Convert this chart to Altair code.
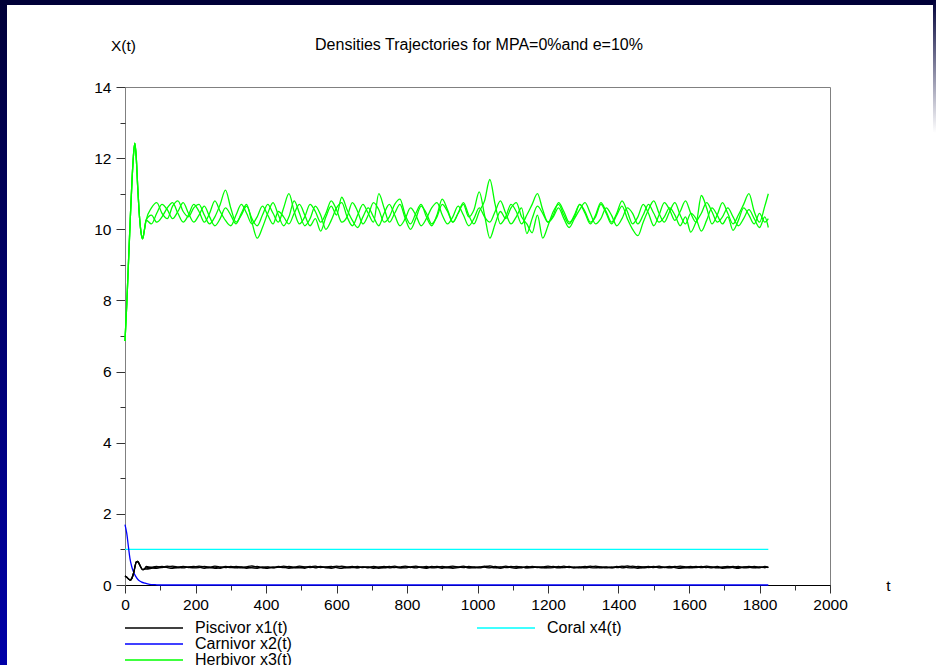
import altair as alt
import pandas as pd

FONT = "Liberation Sans"

# ---- time grids (days) ----
t_start = [0, 5, 10, 15, 20, 25, 28, 32, 36, 40, 45, 50, 55]
t_run = list(range(60, 1816, 15)) + [1825]

# ---- Herbivor x3(t): common transient, then three noisy runs ----
herb_start = [6.86, 7.9, 9.1, 10.3, 11.4, 12.2, 12.42, 12.0, 11.2, 10.5, 9.95, 9.73, 9.98]
herb_1 = [
    10.26, 10.6, 10.75, 10.45, 10.3, 10.65, 10.8, 10.5, 10.35, 10.6,
    10.7, 10.4, 10.15, 10.35, 10.7, 11.1, 10.6, 10.2, 10.4, 10.65,
    10.3, 10.1, 10.4, 10.7, 10.45, 10.2, 10.6, 11.0, 10.5, 10.15,
    10.35, 10.7, 10.5, 10.2, 10.45, 10.8, 10.55, 10.2, 10.35, 10.75,
    10.5, 10.15, 10.4, 10.75, 10.55, 10.2, 10.35, 10.7, 10.85, 10.4,
    10.15, 10.45, 10.7, 10.35, 10.1, 10.4, 10.85, 10.55, 10.2, 10.45,
    10.75, 10.4, 10.15, 10.5, 10.8, 11.4, 10.7, 10.15, 10.35, 10.7,
    10.5, 10.15, 10.4, 10.7, 11.0, 10.55, 10.2, 10.4, 10.75, 10.5,
    10.2, 10.35, 10.7, 10.45, 10.15, 10.4, 10.75, 10.5, 10.2, 10.45,
    10.8, 10.5, 10.15, 10.35, 10.7, 10.45, 10.1, 10.4, 10.75, 10.55,
    10.25, 10.5, 10.8, 10.45, 10.2, 10.95, 10.6, 10.15, 10.4, 10.75,
    10.45, 10.15, 10.4, 10.7, 11.0, 10.5, 10.2, 10.65,
    11.0,
]
herb_2 = [
    10.26, 10.15, 10.45, 10.7, 10.55, 10.3, 10.5, 10.75, 10.45, 10.2,
    10.4, 10.65, 10.35, 10.1, 10.3, 10.6, 10.4, 10.15, 10.45, 10.7,
    10.2, 9.75, 10.05, 10.45, 10.75, 10.4, 10.1, 10.35, 10.8, 10.45,
    10.1, 10.3, 10.65, 10.4, 10.0, 10.25, 10.6, 10.75, 10.35, 10.1,
    10.4, 10.7, 10.45, 10.2, 11.0, 10.6, 10.2, 10.45, 10.7, 10.3,
    10.0, 10.3, 10.65, 10.45, 10.15, 10.35, 10.7, 10.5, 10.2, 10.45,
    10.7, 10.35, 10.55, 11.05, 10.4, 9.75, 10.15, 10.5, 10.3, 10.6,
    10.75, 10.35, 10.15, 9.9, 10.4, 9.75, 10.1, 10.5, 10.7, 10.4,
    10.15, 10.4, 10.7, 10.5, 10.2, 10.35, 10.7, 10.45, 10.15, 10.4,
    10.65, 10.3, 10.0, 9.82, 10.2, 10.55, 10.8, 10.45, 10.2, 10.5,
    10.75, 10.4, 10.15, 10.45, 10.3, 9.95, 10.25, 10.6, 10.4, 10.15,
    10.35, 9.97, 10.25, 10.6, 10.4, 10.15, 10.45, 10.2,
    10.3,
]
herb_3 = [
    10.26, 10.4, 10.2, 10.35, 10.6, 10.75, 10.45, 10.2, 10.4, 10.7,
    10.5, 10.2, 10.45, 10.8, 10.5, 10.25, 10.1, 10.4, 10.7, 10.45,
    10.15, 10.35, 10.65, 10.4, 10.15, 10.5, 10.35, 10.15, 10.45, 10.7,
    10.4, 10.1, 10.3, 9.95, 10.35, 10.65, 10.4, 10.9, 10.55, 10.25,
    10.05, 10.35, 10.6, 10.35, 10.1, 10.45, 10.7, 10.4, 10.1, 10.3,
    10.6, 10.4, 10.1, 10.3, 10.6, 10.75, 10.4, 10.15, 10.35, 10.65,
    10.4, 10.1, 10.3, 10.6, 10.35, 10.2, 10.5, 10.8, 10.45, 10.15,
    10.35, 10.6, 9.88, 10.3, 10.65, 10.45, 10.2, 10.35, 10.6, 10.3,
    10.05, 10.3, 10.55, 10.75, 10.45, 10.15, 10.3, 10.6, 10.4, 10.1,
    10.3, 10.6, 10.45, 10.15, 10.4, 10.7, 10.45, 10.2, 10.35, 10.6,
    10.4, 10.1, 10.35, 9.92, 10.2, 10.45, 10.75, 10.5, 10.2, 10.35,
    10.6, 10.35, 10.1, 10.3, 10.55, 10.3, 10.05, 10.35,
    10.05,
]

# ---- Piscivor x1(t): common transient, then three noisy runs ----
pisc_start = [0.25, 0.22, 0.17, 0.14, 0.2, 0.36, 0.5, 0.65, 0.66, 0.6, 0.5, 0.43, 0.45]
pisc_1 = [
    0.48, 0.5, 0.52, 0.49, 0.51, 0.53, 0.5, 0.48, 0.51, 0.52,
    0.5, 0.47, 0.5, 0.53, 0.51, 0.49, 0.52, 0.5, 0.48, 0.51,
    0.54, 0.5, 0.48, 0.51, 0.49, 0.52, 0.5, 0.47, 0.5, 0.53,
    0.51, 0.49, 0.5, 0.52, 0.48, 0.5, 0.53, 0.51, 0.48, 0.5,
    0.52, 0.49, 0.51, 0.5, 0.47, 0.5, 0.52, 0.49, 0.51, 0.53,
    0.5, 0.48, 0.51, 0.49, 0.52, 0.5, 0.47, 0.51, 0.53, 0.5,
    0.49, 0.52, 0.5, 0.48, 0.51, 0.54, 0.5, 0.47, 0.5, 0.52,
    0.5, 0.48, 0.52, 0.5, 0.49, 0.51, 0.53, 0.5, 0.48, 0.5,
    0.52, 0.49, 0.51, 0.48, 0.5, 0.53, 0.5, 0.48, 0.51, 0.49,
    0.51, 0.54, 0.5, 0.47, 0.5, 0.52, 0.49, 0.51, 0.5, 0.48,
    0.5, 0.53, 0.51, 0.48, 0.5, 0.52, 0.49, 0.51, 0.5, 0.47,
    0.5, 0.52, 0.49, 0.51, 0.5, 0.48, 0.51, 0.49,
    0.5,
]
pisc_2 = [
    0.52, 0.49, 0.47, 0.5, 0.53, 0.5, 0.48, 0.51, 0.49, 0.5,
    0.53, 0.51, 0.48, 0.5, 0.47, 0.5, 0.49, 0.52, 0.5, 0.47,
    0.5, 0.52, 0.49, 0.47, 0.51, 0.5, 0.53, 0.5, 0.48, 0.5,
    0.47, 0.51, 0.53, 0.49, 0.51, 0.52, 0.49, 0.47, 0.5, 0.52,
    0.49, 0.51, 0.48, 0.52, 0.5, 0.48, 0.5, 0.53, 0.49, 0.48,
    0.51, 0.53, 0.49, 0.47, 0.5, 0.52, 0.5, 0.48, 0.5, 0.51,
    0.53, 0.49, 0.48, 0.51, 0.5, 0.48, 0.52, 0.5, 0.53, 0.49,
    0.47, 0.5, 0.49, 0.52, 0.5, 0.48, 0.5, 0.52, 0.5, 0.53,
    0.49, 0.51, 0.48, 0.5, 0.53, 0.5, 0.48, 0.51, 0.49, 0.52,
    0.48, 0.5, 0.53, 0.5, 0.48, 0.5, 0.52, 0.48, 0.5, 0.52,
    0.49, 0.47, 0.5, 0.52, 0.49, 0.5, 0.53, 0.5, 0.48, 0.51,
    0.52, 0.49, 0.47, 0.5, 0.52, 0.5, 0.48, 0.52,
    0.49,
]
pisc_3 = [
    0.45, 0.47, 0.5, 0.52, 0.49, 0.47, 0.5, 0.52, 0.5, 0.48,
    0.49, 0.52, 0.5, 0.47, 0.49, 0.52, 0.5, 0.48, 0.51, 0.5,
    0.48, 0.47, 0.51, 0.5, 0.48, 0.5, 0.49, 0.52, 0.5, 0.48,
    0.5, 0.52, 0.48, 0.51, 0.5, 0.47, 0.5, 0.53, 0.5, 0.49,
    0.48, 0.51, 0.5, 0.47, 0.5, 0.52, 0.48, 0.5, 0.48, 0.51,
    0.49, 0.51, 0.5, 0.52, 0.48, 0.49, 0.52, 0.5, 0.47, 0.49,
    0.51, 0.48, 0.51, 0.5, 0.53, 0.5, 0.48, 0.51, 0.49, 0.5,
    0.52, 0.51, 0.48, 0.49, 0.51, 0.5, 0.48, 0.49, 0.52, 0.49,
    0.5, 0.48, 0.5, 0.52, 0.49, 0.48, 0.51, 0.5, 0.48, 0.5,
    0.53, 0.49, 0.48, 0.52, 0.51, 0.49, 0.5, 0.53, 0.49, 0.5,
    0.52, 0.5, 0.48, 0.5, 0.52, 0.49, 0.5, 0.48, 0.52, 0.49,
    0.48, 0.5, 0.52, 0.48, 0.49, 0.52, 0.5, 0.49,
    0.5,
]

# ---- Carnivor x2(t): decays to extinction ----
carn_t = [0, 5, 10, 14, 19, 24, 30, 38, 46, 57, 70, 85, 100, 1825]
carn = [1.7, 1.45, 1.05, 0.75, 0.52, 0.37, 0.25, 0.14, 0.09, 0.05, 0.02, 0.01, 0.0, 0.0]

# ---- Coral x4(t): constant cover ----
coral_t = [0, 1825]
coral = [1.0, 1.0]

x_major = list(range(0, 2001, 200))
x_minor = list(range(100, 2000, 200))
y_major = [0, 2, 4, 6, 8, 10, 12, 14]
y_minor = [1, 3, 5, 7, 9, 11, 13]

GREEN, BLACK, BLUE, CYAN = "#00ff00", "#000000", "#0000ff", "#00ffff"
TITLE = "Densities Trajectories for MPA=0%and e=10%"


def runs_frame(runs, ts_head, head):
    rows = []
    for name, vals in runs:
        for t, v in zip(ts_head + t_run, head + vals):
            rows.append({"t": t, "x": v, "run": name})
    return pd.DataFrame(rows)


herb_df = runs_frame([("h1", herb_1), ("h2", herb_2), ("h3", herb_3)], t_start, herb_start)
pisc_df = runs_frame([("p1", pisc_1), ("p2", pisc_2), ("p3", pisc_3)], t_start, pisc_start)
carn_df = pd.DataFrame({"t": carn_t, "x": carn, "run": "c1"})
coral_df = pd.DataFrame({"t": coral_t, "x": coral, "run": "k1"})

xs = alt.Scale(domain=[0, 2000], nice=False, zero=False)
ys = alt.Scale(domain=[0, 14], nice=False, zero=False)

x_axis = alt.Axis(
    values=x_major, format="d", tickSize=8, labelPadding=4, labelFlush=False,
    labelOverlap=False, domainColor="#000000", tickColor="#333333",
    labelColor="#000000", labelFontSize=15.5, orient="bottom", title="t",
    titleX=763, titleY=0, titleAlign="center", titleBaseline="middle",
    titleFontWeight="normal", titleFontSize=15.5, titleColor="#000000",
)
y_axis = alt.Axis(
    values=y_major, format="d", tickSize=9, labelPadding=5, labelFlush=False,
    labelOverlap=False, domainColor="#808080", tickColor="#333333",
    labelColor="#000000", labelFontSize=15.5, orient="left", title="X(t)",
    titleAngle=0, titleX=-2, titleY=-42, titleAlign="center",
    titleBaseline="middle", titleFontWeight="normal", titleFontSize=15.5,
    titleColor="#000000",
)


def series(df, color, smooth=True):
    mark = alt.Chart(df).mark_line(
        color=color, strokeWidth=1.3,
        interpolate="monotone" if smooth else "linear",
    )
    return mark.encode(
        x=alt.X("t:Q", scale=xs, axis=None),
        y=alt.Y("x:Q", scale=ys, axis=None),
        detail="run:N",
    )


# axes: major ticks with labels, then unlabelled minor ticks
major = alt.Chart(pd.DataFrame({"t": [0], "x": [0]})).mark_point(opacity=0).encode(
    x=alt.X("t:Q", scale=xs, axis=x_axis),
    y=alt.Y("x:Q", scale=ys, axis=y_axis),
)
minor = alt.Chart(pd.DataFrame({"t": [0], "x": [0]})).mark_point(opacity=0).encode(
    x=alt.X("t:Q", scale=xs, axis=alt.Axis(
        values=x_minor, tickSize=5, labels=False, domain=False, title=None,
        tickColor="#333333", orient="bottom")),
    y=alt.Y("x:Q", scale=ys, axis=alt.Axis(
        values=y_minor, tickSize=5, labels=False, domain=False, title=None,
        tickColor="#333333", orient="left")),
)

one = alt.Data(values=[{}])

# slide frame: dark top band, blue gradient on the left, fading strip on the right
left_grad = alt.LinearGradient(
    gradient="linear", x1=0, x2=0, y1=0, y2=1,
    stops=[alt.GradientStop(color="#000038", offset=0),
           alt.GradientStop(color="#0000a8", offset=1)],
)
right_grad = alt.LinearGradient(
    gradient="linear", x1=0, x2=0, y1=0, y2=1,
    stops=[alt.GradientStop(color="#000038", offset=0),
           alt.GradientStop(color="#ffffff", offset=0.2),
           alt.GradientStop(color="#ffffff", offset=1)],
)
top_band = alt.Chart(one).mark_rect(color="#000038").encode(
    x=alt.value(-125), x2=alt.value(811), y=alt.value(-87), y2=alt.value(-82))
left_band = alt.Chart(one).mark_rect(color=left_grad).encode(
    x=alt.value(-125), x2=alt.value(-118), y=alt.value(-87), y2=alt.value(578))
right_band = alt.Chart(one).mark_rect(color=right_grad).encode(
    x=alt.value(808), x2=alt.value(811), y=alt.value(-87), y2=alt.value(578))

title = alt.Chart(one).mark_text(
    align="center", baseline="middle", fontSize=16, font=FONT, color="#000000"
).encode(x=alt.value(354), y=alt.value(-42), text=alt.value(TITLE))


def legend_entry(label, color, sx, sy):
    line = alt.Chart(one).mark_rule(color=color, strokeWidth=1.5).encode(
        x=alt.value(sx), x2=alt.value(sx + 58), y=alt.value(sy))
    text = alt.Chart(one).mark_text(
        align="left", baseline="middle", fontSize=16, font=FONT, color="#000000"
    ).encode(x=alt.value(sx + 70), y=alt.value(sy), text=alt.value(label))
    return [line, text]


legend_layers = (
    legend_entry("Piscivor x1(t)", BLACK, 0, 541)
    + legend_entry("Carnivor x2(t)", BLUE, 0, 557)
    + legend_entry("Herbivor x3(t)", GREEN, 0, 573)
    + legend_entry("Coral x4(t)", CYAN, 352, 541)
)

chart = alt.layer(
    top_band, left_band, right_band,
    major, minor, title,
    series(coral_df, CYAN, smooth=False),
    series(herb_df, GREEN),
    series(carn_df, BLUE),
    series(pisc_df, BLACK),
    *legend_layers,
).resolve_axis(
    x="independent", y="independent"
).properties(
    width=705,
    height=498,
    padding={"left": 125, "top": 87, "right": 106, "bottom": 80},
    autosize=alt.AutoSizeParams(type="none"),
    background="#ffffff",
).configure_view(
    stroke="#808080", strokeWidth=1
).configure_axis(
    grid=False, labelFont=FONT, titleFont=FONT
)

chart.save("out.html", embed_options={"renderer": "svg", "actions": False})
